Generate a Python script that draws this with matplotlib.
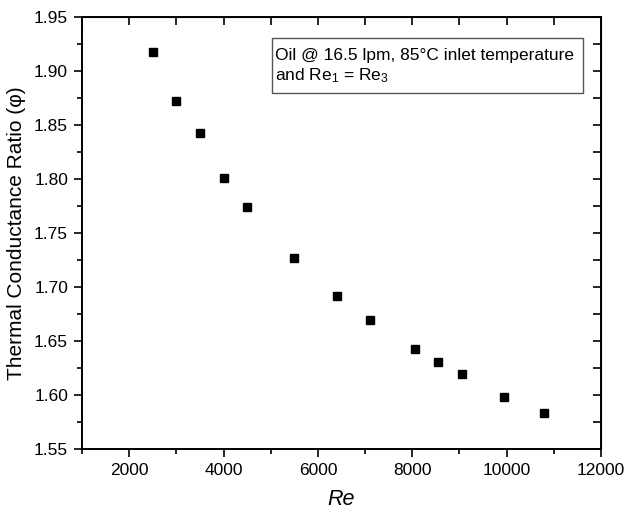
import matplotlib as mpl
mpl.use('Agg')
import numpy as np
import matplotlib.pyplot as plt
from matplotlib.ticker import MultipleLocator
from matplotlib.patches import Rectangle

# values
re_vals = [2500, 3000, 3500, 4000, 4500, 5500, 6400, 7100, 8050, 8550, 9050, 9950, 10800]
phi_vals = [1.918, 1.872, 1.843, 1.801, 1.774, 1.727, 1.692, 1.669, 1.643, 1.631, 1.619, 1.598, 1.583]
note_lines = ['Oil @ 16.5 lpm, 85\u00b0C inlet temperature', 'and Re$_1$ = Re$_3$']

plt.rcParams['font.family'] = ['Liberation Sans', 'DejaVu Sans']
plt.rcParams['mathtext.fontset'] = 'custom'
plt.rcParams['mathtext.rm'] = 'Liberation Sans'
plt.rcParams['mathtext.it'] = 'Liberation Sans:italic'

fig = plt.figure(figsize=(6.25, 5.15), dpi=100)
ax = fig.add_axes([0.1312, 0.1282, 0.8304, 0.8388])

ax.plot(re_vals, phi_vals, 's', color='black', markersize=6.2, linestyle='none')

ax.set_xlim(1000, 12000)
ax.set_ylim(1.55, 1.95)
ax.xaxis.set_major_locator(MultipleLocator(2000))
ax.xaxis.set_minor_locator(MultipleLocator(1000))
ax.yaxis.set_major_locator(MultipleLocator(0.05))
ax.yaxis.set_minor_locator(MultipleLocator(0.025))
ax.yaxis.set_major_formatter(mpl.ticker.FormatStrFormatter('%.2f'))

for s in ax.spines.values():
    s.set_linewidth(1.4)
ax.tick_params(which='both', direction='out', width=1.2, labelsize=12.5, top=False, right=False)
ax.tick_params(which='major', length=6, pad=4)
ax.tick_params(which='minor', length=3.5)

# inward ticks on the top and right edges, no labels
sec_x = ax.secondary_xaxis('top')
sec_x.xaxis.set_major_locator(MultipleLocator(1000))
sec_x.tick_params(direction='in', length=6, width=1.2, labeltop=False)
sec_y = ax.secondary_yaxis('right')
sec_y.yaxis.set_major_locator(MultipleLocator(0.025))
sec_y.tick_params(direction='in', length=6, width=1.2, labelright=False)

ax.set_xlabel('Re', fontsize=15.5, style='italic', labelpad=8)
ax.set_ylabel('Thermal Conductance Ratio (\u03c6)', fontsize=15, labelpad=6)

# annotation box
ax.add_patch(Rectangle((0.366, 0.824), 0.599, 0.127, transform=ax.transAxes,
                       facecolor='white', edgecolor='#555555', linewidth=1, zorder=3))
ax.text(0.3719, 0.9005, note_lines[0], transform=ax.transAxes, fontsize=12.5,
        ha='left', va='baseline', zorder=4)
ax.text(0.3719, 0.854, note_lines[1], transform=ax.transAxes, fontsize=12.5,
        ha='left', va='baseline', zorder=4)

fig.savefig('out.png', dpi=100)
